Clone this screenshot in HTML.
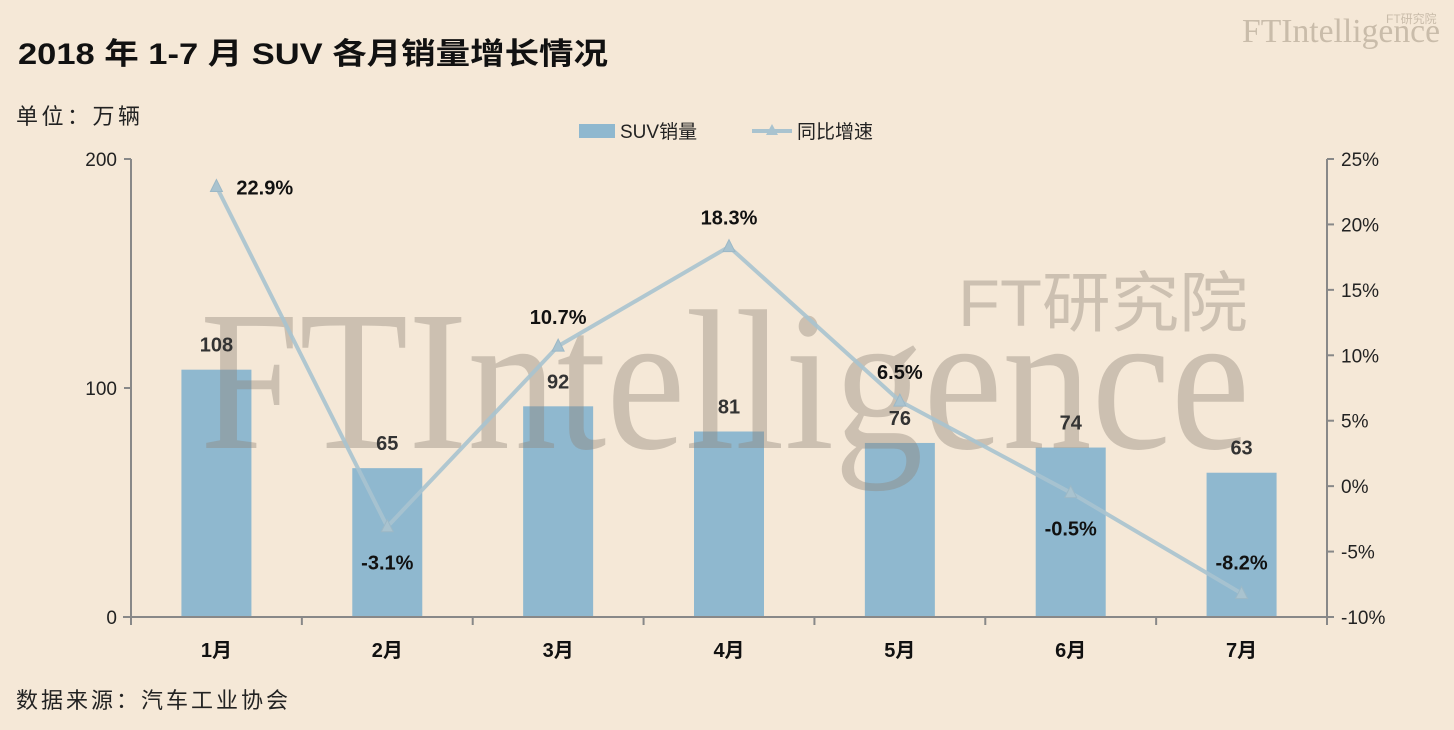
<!DOCTYPE html>
<html><head><meta charset="utf-8"><style>
body{margin:0;background:#f5e8d7;}
svg{display:block;font-family:"Liberation Sans","Noto Sans CJK SC",sans-serif;}
</style></head><body>
<svg id="c" width="1454" height="730" xmlns="http://www.w3.org/2000/svg">
<rect width="1454" height="730" fill="#f5e8d7"/>
<text x="18" y="64" font-size="30" font-weight="bold" fill="#111" textLength="590" lengthAdjust="spacingAndGlyphs">2018 年 1-7 月 SUV 各月销量增长情况</text>
<text x="16" y="124" font-size="22" fill="#222" textLength="124">单位：万辆</text>
<text x="16" y="708" font-size="22" fill="#222" textLength="272">数据来源：汽车工业协会</text>
<g fill="#c9bcaa">
<text x="1242" y="42" font-family="Liberation Serif,serif" font-size="34" textLength="198" lengthAdjust="spacingAndGlyphs">FTIntelligence</text>
<text x="1386" y="23" font-size="12">FT研究院</text>
</g>
<g>
<rect x="579" y="124" width="36" height="14" fill="#8fb8cf"/>
<text x="620" y="138" font-size="19" fill="#222">SUV销量</text>
<line x1="752" y1="131" x2="792" y2="131" stroke="#a9c3cf" stroke-width="4"/>
<path d="M772 124 L778 135 L766 135 Z" fill="#a9c3cf"/>
<text x="797" y="138" font-size="19" fill="#222">同比增速</text>
</g>
<g id="plot"></g>
</svg>
<script>
const categories=["1月","2月","3月","4月","5月","6月","7月"];
const sales=[108,65,92,81,76,74,63];
const growth=[22.9,-3.1,10.7,18.3,6.5,-0.5,-8.2];
const leftTicks=[0,100,200];
const rightTicks=[25,20,15,10,5,0,-5,-10];
const NS="http://www.w3.org/2000/svg";
const g=document.getElementById("plot");
const X0=131,X1=1327,YT=159,YB=617;
const bw=(X1-X0)/categories.length;
const xC=i=>X0+bw*(i+0.5);
const yL=v=>YB-(v/200)*(YB-YT);
const yR=v=>YB-((v+10)/35)*(YB-YT);
function el(t,a){const e=document.createElementNS(NS,t);for(const k in a)e.setAttribute(k,a[k]);g.appendChild(e);return e;}
let e=el("line",{x1:X0,y1:YT,x2:X0,y2:YB,stroke:"#888","stroke-width":2});


e=el("line",{x1:X1,y1:YT,x2:X1,y2:YB,stroke:"#888","stroke-width":2});


leftTicks.forEach(v=>{
 el("line",{x1:X0-7,y1:yL(v),x2:X0,y2:yL(v),stroke:"#888","stroke-width":2});
 const t=el("text",{x:X0-14,y:yL(v)+7,"font-size":19,fill:"#222","text-anchor":"end"});t.textContent=v;
 
 
});
rightTicks.forEach(v=>{
 el("line",{x1:X1,y1:yR(v),x2:X1+7,y2:yR(v),stroke:"#888","stroke-width":2});
 const t=el("text",{x:X1+14,y:yR(v)+7,"font-size":19,fill:"#222"});t.textContent=v+"%";
 
 
});
categories.forEach((c,i)=>{
 const t=el("text",{x:xC(i),y:YB+40,"font-size":20,"font-weight":"bold",fill:"#111","text-anchor":"middle"});t.textContent=c;
 
 
});
sales.forEach((v,i)=>{
 const b=el("rect",{x:xC(i)-35,y:yL(v),width:70,height:YB-yL(v),fill:"#8fb8cf"});
 
 
});
// watermark over bars
const wm=el("text",{x:200,y:448,"font-family":"Liberation Serif,serif","font-size":200,fill:"#8f8477","fill-opacity":0.4,textLength:1050,lengthAdjust:"spacingAndGlyphs"});
wm.textContent="FTIntelligence";


const wm2=el("text",{x:958,y:326,"font-size":66,fill:"#8f8477","fill-opacity":0.4,textLength:290,lengthAdjust:"spacingAndGlyphs"});
wm2.textContent="FT研究院";


e=el("line",{x1:X0-8,y1:YB,x2:X1,y2:YB,stroke:"#888","stroke-width":2});


for(let i=0;i<=categories.length;i++){el("line",{x1:X0+bw*i,y1:YB,x2:X0+bw*i,y2:YB+8,stroke:"#888","stroke-width":2});}
sales.forEach((v,i)=>{
 const t=el("text",{x:xC(i),y:yL(v)-18,"font-size":20,"font-weight":"bold",fill:"#333","text-anchor":"middle"});t.textContent=v;
 
 
});
const ln=el("polyline",{points:growth.map((v,i)=>xC(i)+","+yR(v)).join(" "),fill:"none",stroke:"#a9c3cf","stroke-width":4,"stroke-linejoin":"round","stroke-opacity":0.9});


growth.forEach((v,i)=>{
 const x=xC(i),y=yR(v);
 const m=el("path",{d:`M${x} ${y-7} L${x+6} ${y+5} L${x-6} ${y+5} Z`,fill:"#a9c3cf",stroke:"#9cb8c6"});
 
 
 let lx=x,ly=y-22,anc="middle";
 if(i===0){lx=x+20;ly=y+8;anc="start";}
 else if(v<0&&i<6){ly=y+43;}
 else if(v<0){ly=y-24;}
 const t=el("text",{x:lx,y:ly,"font-size":20,"font-weight":"bold",fill:"#111","text-anchor":anc});t.textContent=v.toFixed(1)+"%";
 
 
});
</script>
</body></html>
